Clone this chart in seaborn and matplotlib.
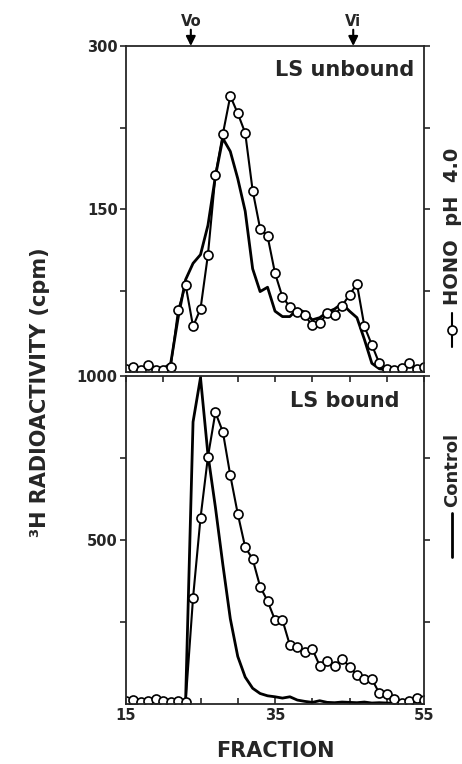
import numpy as np
import pandas as pd
import matplotlib
matplotlib.use("Agg")
import matplotlib.pyplot as plt
import seaborn as sns
from matplotlib.lines import Line2D

# Fractions collected from the column
fractions = list(range(15, 56))

# LS unbound (cpm)
unbound_control = [4, 5, 3, 6, 4, 3, 8, 50, 85, 100, 108, 135, 180, 215, 203, 178, 148,
                   95, 74, 78, 56, 51, 51, 58, 55, 48, 50, 55, 58, 63, 56, 50, 30, 8, 3,
                   2, 3, 4, 6, 3, 3]
unbound_hono = [3, 5, 2, 6, 2, 2, 5, 57, 80, 42, 58, 108, 181, 219, 254, 238, 220, 167,
                132, 125, 91, 69, 60, 55, 52, 43, 45, 54, 52, 61, 71, 81, 42, 25, 8, 3,
                2, 4, 8, 3, 5]

# LS bound (cpm)
bound_control = [10, 14, 8, 12, 16, 10, 12, 8, 10, 860, 995, 760, 600, 425, 260, 145, 82,
                 48, 32, 25, 22, 18, 22, 12, 8, 5, 10, 5, 4, 6, 5, 4, 6, 3, 4, 3, 2, 5,
                 4, 8, 3]
bound_hono = [8, 12, 5, 10, 14, 10, 6, 8, 5, 324, 567, 754, 889, 830, 697, 580, 478, 442,
              358, 314, 256, 256, 179, 173, 160, 168, 117, 130, 117, 137, 114, 87, 76, 76,
              33, 31, 14, 4, 10, 17, 12]

# void / included volume markers
markers_x = [23.7, 45.5]
markers_lab = ["Vo", "Vi"]

sns.set_style("ticks")
plt.rcParams["font.family"] = ["DejaVu Sans"]
plt.rcParams["font.weight"] = "bold"

W, H = 462, 764
fig = plt.figure(figsize=(W / 100, H / 100), dpi=100)
ax1 = fig.add_axes([126 / W, 1 - 372 / H, 298 / W, 326 / H])
ax2 = fig.add_axes([126 / W, 1 - 704 / H, 298 / W, 328 / H])

df_top = pd.DataFrame({"fraction": fractions, "control": unbound_control, "hono": unbound_hono})
df_bot = pd.DataFrame({"fraction": fractions, "control": bound_control, "hono": bound_hono})

for ax, df in [(ax1, df_top), (ax2, df_bot)]:
    sns.lineplot(data=df, x="fraction", y="control", ax=ax, color="black", lw=2.0)
    sns.lineplot(data=df, x="fraction", y="hono", ax=ax, color="black", lw=1.5,
                 marker="o", markersize=6.5, markerfacecolor="white",
                 markeredgecolor="black", markeredgewidth=1.2)
    ax.set_xlim(15, 55)
    ax.set_xlabel("")
    ax.set_ylabel("")
    for s in ax.spines.values():
        s.set_linewidth(1.3)
    ax.tick_params(axis="y", direction="out", length=4, width=1.2, pad=2,
                   labelsize=10.5, left=True, right=True)

# top panel
ax1.set_ylim(0, 300)
ax1.set_yticks([75, 150, 225, 300])
ax1.set_yticklabels(["", "150", "", "300"], fontweight="bold")
ax1.set_xticks([])
ax1.text(0.735, 0.925, "LS unbound", transform=ax1.transAxes, ha="center", va="center",
         fontsize=15, fontweight="bold")
for xv, lab in zip(markers_x, markers_lab):
    ax1.annotate("", xy=(xv, 1.0), xycoords=("data", "axes fraction"),
                 xytext=(xv, 1.05), textcoords=("data", "axes fraction"),
                 arrowprops=dict(arrowstyle="-|>", color="black", lw=1.5,
                                 mutation_scale=14, shrinkA=0, shrinkB=0),
                 annotation_clip=False)
    ax1.text(xv, 1.074, lab, transform=ax1.get_xaxis_transform(), ha="center",
             va="center", fontsize=10.5, fontweight="bold")

# bottom panel
ax2.set_ylim(0, 1000)
ax2.set_yticks([250, 500, 750, 1000])
ax2.set_yticklabels(["", "500", "", "1000"], fontweight="bold")
ax2.set_xticks(range(15, 56, 5))
ax2.set_xticklabels(["15", "", "", "", "35", "", "", "", "55"], fontweight="bold")
ax2.tick_params(axis="x", direction="in", length=4, width=1.2, pad=3, labelsize=10.5,
                top=True, bottom=True)
ax2.text(0.735, 0.925, "LS bound", transform=ax2.transAxes, ha="center", va="center",
         fontsize=15, fontweight="bold")

# axis titles
fig.text(275 / W, 1 - 751 / H, "FRACTION", ha="center", va="center", fontsize=15,
         fontweight="bold")
fig.text(40 / W, 1 - 392 / H, "³H RADIOACTIVITY (cpm)", ha="center", va="center",
         rotation=90, fontsize=15, fontweight="bold")

# legend, rotated along the right edge
lx = 452 / W
fig.add_artist(Line2D([lx, lx, lx], [1 - 347 / H, 1 - 330 / H, 1 - 313 / H], color="black",
                      lw=1.5, marker="o", markevery=[1], markersize=6.5,
                      markerfacecolor="white", markeredgewidth=1.2))
fig.text(lx, 1 - 305 / H, "HONO  pH  4.0", rotation=90, ha="center", va="bottom",
         fontsize=14, fontweight="bold")
fig.add_artist(Line2D([lx, lx], [1 - 557 / H, 1 - 513 / H], color="black", lw=2.0))
fig.text(lx, 1 - 507 / H, "Control", rotation=90, ha="center", va="bottom",
         fontsize=13, fontweight="bold")

fig.savefig("out.png", dpi=100)
